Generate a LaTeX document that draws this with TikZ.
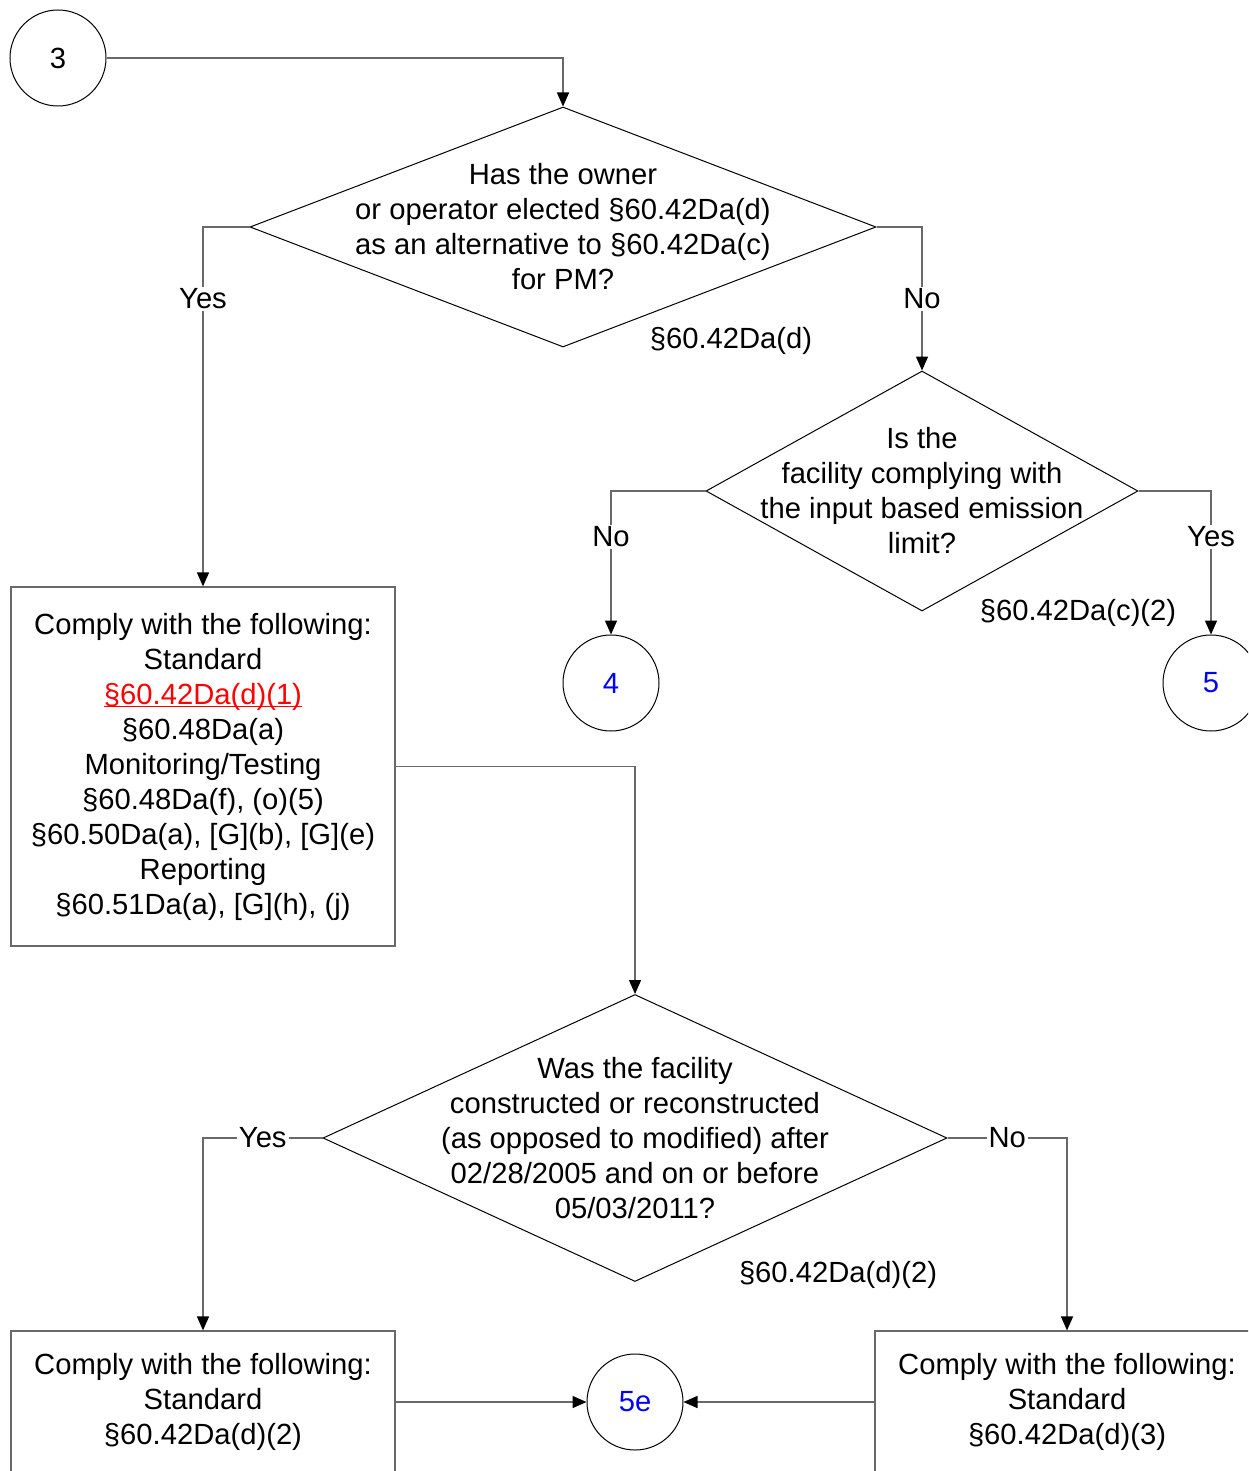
\documentclass[tikz,border=0pt]{standalone}
\usepackage{fontspec}
\setmainfont{Liberation Sans}
\usetikzlibrary{shapes.geometric,arrows.meta}
\definecolor{linegray}{RGB}{105,105,105}
\definecolor{refblue}{RGB}{0,0,255}
\newcommand{\redlink}[1]{\leavevmode\setbox0\hbox{#1}\rlap{\rule[-1.6pt]{\wd0}{0.6pt}}\box0}

\begin{document}
\begin{tikzpicture}[x=0.5pt,y=-0.5pt,->,>={Triangle[length=7pt,width=6pt,color=black]},
			font=\fontsize{14.6}{17.5}\selectfont,
			every edge/.style={draw=linegray,line width=0.7pt},
			hv/.style={to path={-| (\tikztotarget) \tikztonodes}},
			connector/.style={circle,draw,line width=0.5pt,minimum size=48pt,inner sep=0pt},
			decision/.style={diamond,draw,line width=0.5pt,inner sep=0pt},
			rulebox/.style={rectangle,draw=linegray,line width=0.6pt,minimum width=192pt,align=center,inner sep=0pt},
			tag/.style={fill=white,inner sep=1pt,text=black}]
			\useasboundingbox (0,0) rectangle (1248,1471);
			\clip (0,0) rectangle (1248,1471);

			\node[connector] (c3) at (58,58) {3};
			\node[decision,minimum width=313pt,minimum height=120pt,
				label={[align=center]center:{Has the owner\\or operator elected §60.42Da(d)\\as an alternative to §60.42Da(c)\\for PM?}}] (d1) at (563,227) {};
			\node (ref1) at (731,341) {§60.42Da(d)};
			\node[decision,minimum width=216pt,minimum height=120pt,
				label={[align=center]center:{Is the\\facility complying with\\the input based emission\\limit?}}] (d2) at (922,491) {};
			\node (ref2) at (1078,613) {§60.42Da(c)(2)};
			\node[connector,text=refblue] (c4) at (611,683) {4};
			\node[connector,text=refblue] (c5) at (1211,683) {5};
			\node[rulebox,minimum height=179.5pt] (b1) at (203,766.5) {Comply with the following:\\Standard\\{\color{red}\redlink{§60.42Da(d)(1)}}\\§60.48Da(a)\\Monitoring/Testing\\§60.48Da(f), (o)(5)\\§60.50Da(a), [G](b), [G](e)\\Reporting\\§60.51Da(a), [G](h), (j)};
			\node[decision,minimum width=312pt,minimum height=143.5pt,
				label={[align=center]center:{Was the facility\\constructed or reconstructed\\(as opposed to modified) after\\02/28/2005 and on or before\\05/03/2011?}}] (d3) at (635,1138) {};
			\node (ref3) at (838,1275) {§60.42Da(d)(2)};
			\node[rulebox,minimum height=71pt] (b2) at (203,1402) {Comply with the following:\\Standard\\§60.42Da(d)(2)};
			\node[rulebox,minimum height=71pt] (b3) at (1067,1402) {Comply with the following:\\Standard\\§60.42Da(d)(3)};
			\node[connector,text=refblue] (c5e) at (635,1402) {5e};

			\path 	(c3.east) edge[hv] (d1.north)
					(d1.west) edge[hv] node[tag,pos=0.6] {Yes} (b1.north)
					(d1.east) edge[hv] node[tag,pos=0.75] {No} (d2.north)
					(d2.west) edge[hv] node[tag,pos=0.66] {No} (c4.north)
					(d2.east) edge[hv] node[tag,pos=0.66] {Yes} (c5.north)
					(b1.east) edge[hv] (d3.north)
					(d3.west) edge[hv] node[tag,pos=0.25] {Yes} (b2.north)
					(d3.east) edge[hv] node[tag,pos=0.25] {No} (b3.north)
					(b2.east) edge (c5e.west)
					(b3.west) edge (c5e.east);
			\end{tikzpicture}
\end{document}
